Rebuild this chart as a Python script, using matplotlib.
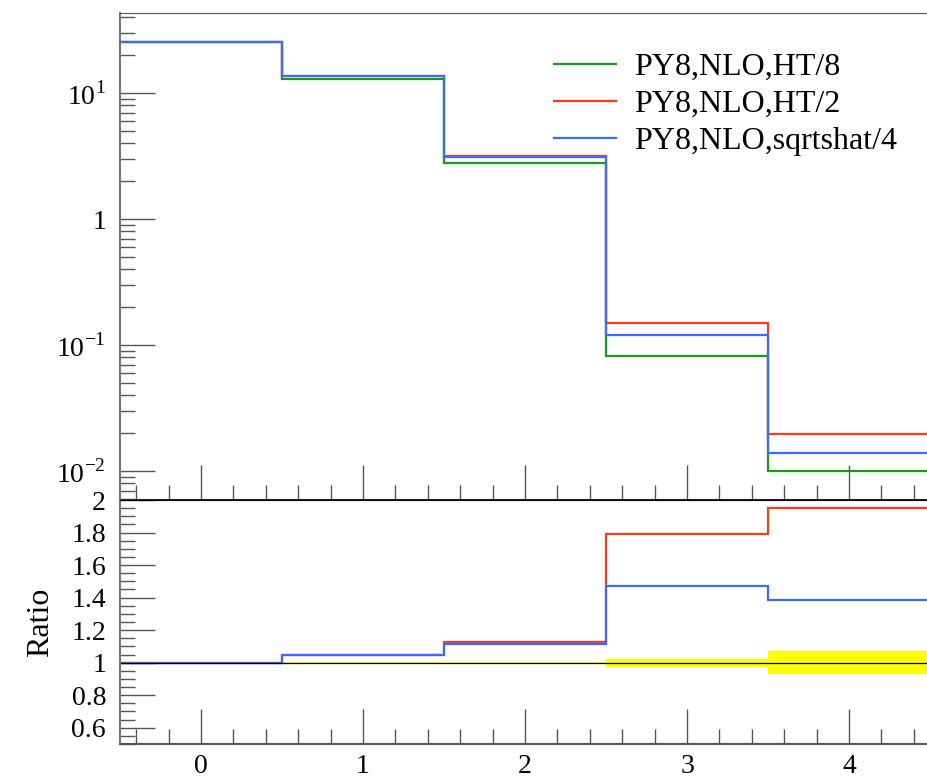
import numpy as np
import matplotlib
matplotlib.use("Agg")
import matplotlib.pyplot as plt
from matplotlib.ticker import FixedLocator, MultipleLocator, FuncFormatter

plt.rcParams['font.family'] = ['Liberation Serif', 'DejaVu Serif']
plt.rcParams['mathtext.fontset'] = 'custom'
plt.rcParams['mathtext.rm'] = 'Liberation Serif'

# bin edges and values
edges = [-0.5, 0.5, 1.5, 2.5, 3.5, 4.5]
labels = ["PY8,NLO,HT/8", "PY8,NLO,HT/2", "PY8,NLO,sqrtshat/4"]
colors = ["#1a9a1a", "#ff3a1a", "#3a6aff"]

ht8 = [25.4, 13.0, 2.78, 0.0818, 0.0100]
ht2 = [25.4, 13.6, 3.16, 0.150, 0.0197]
sqs4 = [25.4, 13.6, 3.08, 0.120, 0.0139]

ratio_ht8 = [1.0, 1.0, 1.0, 1.0, 1.0]
ratio_ht2 = [0.995, 1.047, 1.129, 1.794, 1.953]
ratio_sqs4 = [1.0, 1.047, 1.117, 1.47, 1.383]
band_err = [0.002, 0.003, 0.004, 0.025, 0.072]

fig = plt.figure(figsize=(9.27, 7.8), dpi=100)
ax = fig.add_axes([120/927, 1-500/780, 810/927, 487/780])
rax = fig.add_axes([120/927, 1-744/780, 810/927, 244/780])

for vals, c, lab in zip([ht8, ht2, sqs4], colors, labels):
    ax.stairs(vals, edges, color=c, lw=1.6, label=lab, baseline=None)

ax.set_yscale('log')
ax.set_xlim(-0.5, 4.5)
ax.set_ylim(10**-2.23, 10**1.635)

def logfmt(v, pos):
    e = int(round(np.log10(v)))
    if e == 0:
        return "1"
    return r"$10^{%d}$" % e if e > 0 else r"$10^{-%d}$" % (-e)

ax.yaxis.set_major_locator(FixedLocator([0.01, 0.1, 1, 10]))
ax.yaxis.set_major_formatter(FuncFormatter(logfmt))
ax.yaxis.set_minor_locator(FixedLocator([m * 10.0**e for e in range(-3, 2) for m in range(2, 10)]))
ax.yaxis.set_minor_formatter(FuncFormatter(lambda v, p: ""))
ax.xaxis.set_major_locator(MultipleLocator(1))
ax.xaxis.set_minor_locator(MultipleLocator(0.2))
ax.tick_params(axis='x', which='both', labelbottom=False)

for a in (ax, rax):
    a.tick_params(which='major', direction='in', length=25, width=1.0, color='#555555',
                  labelsize=20, top=False, right=False)
    a.tick_params(which='minor', direction='in', length=11, width=1.0, color='#555555',
                  top=False, right=False)
    a.tick_params(axis='y', which='major', pad=10)
    a.spines['right'].set_visible(False)
    a.spines['left'].set_color('#777777')
    a.spines['left'].set_linewidth(1.5)

ax.spines['top'].set_color('#555555')
ax.spines['bottom'].set_color('#222222')
ax.spines['bottom'].set_linewidth(1.5)

leg = ax.legend(loc='upper left', bbox_to_anchor=(0.52, 0.945), frameon=False,
                fontsize=23, handlelength=1.95, handletextpad=0.55, labelspacing=0.24,
                borderaxespad=0)

# ratio panel
band_lo = [1 - e for e in band_err]
band_hi = [1 + e for e in band_err]
rax.stairs(band_hi, edges, baseline=band_lo, fill=True, color='#ffff00', lw=0)
rax.axhline(1.0, color='black', lw=0.9)
rax.stairs(ratio_ht8, edges, color=colors[0], lw=1.6, baseline=None, alpha=0.0)
rax.stairs(ratio_ht2, edges, color=colors[1], lw=1.6, baseline=None)
rax.stairs(ratio_sqs4, edges, color=colors[2], lw=1.6, baseline=None)

rax.set_xlim(-0.5, 4.5)
rax.set_ylim(0.5, 2.0)
rax.yaxis.set_major_locator(FixedLocator([0.6, 0.8, 1.0, 1.2, 1.4, 1.6, 1.8, 2.0]))
rax.yaxis.set_major_formatter(FuncFormatter(lambda v, p: ("%.1f" % v).rstrip('0').rstrip('.')))
rax.yaxis.set_minor_locator(MultipleLocator(0.05))
rax.xaxis.set_major_locator(MultipleLocator(1))
rax.xaxis.set_minor_locator(MultipleLocator(0.2))
rax.tick_params(axis='x', which='major', pad=7)
rax.spines['top'].set_color('black')
rax.spines['bottom'].set_color('#555555')
rax.spines['bottom'].set_linewidth(1.5)
rax.set_ylabel("Ratio", fontsize=23, labelpad=12)

fig.savefig("out.png", dpi=100)
